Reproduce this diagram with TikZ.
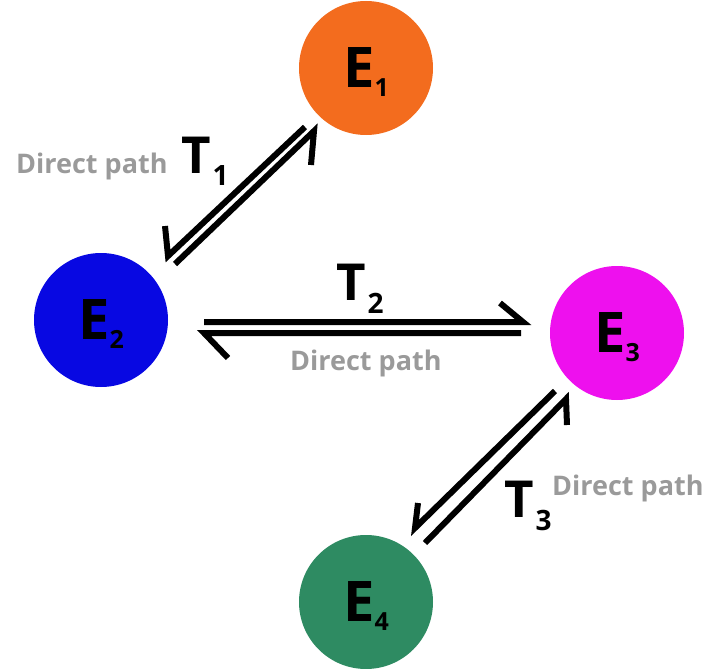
\documentclass[tikz,border=0pt]{standalone}
\usepackage{fontspec}
\setmainfont{Open Sans}
\definecolor{eorange}{HTML}{F36C1E}
\definecolor{eblue}{HTML}{0808E2}
\definecolor{emagenta}{HTML}{EE10EE}
\definecolor{egreen}{HTML}{2E8B62}
\definecolor{pathgray}{HTML}{9A9A9A}
\begin{document}
\begin{tikzpicture}[x=1pt,y=-1pt,
  ball/.style={circle,minimum size=134pt,inner sep=0pt,text=black,font=\bfseries\fontsize{56}{56}\selectfont},
  tlab/.style={inner sep=0pt,anchor=base west,font=\bfseries\fontsize{51}{51}\selectfont},
  dp/.style={inner sep=0pt,anchor=base west,text=pathgray,font=\bfseries\fontsize{27}{27}\selectfont},
  harp/.style={line width=6pt,line join=miter,line cap=butt}]
\useasboundingbox (0,0) rectangle (713,669);
% species
\node[ball,fill=eorange]  (E1) at (366,68)  {E\smash{\raisebox{-9pt}{\fontsize{25}{25}\selectfont 1}}};
\node[ball,fill=eblue]    (E2) at (101,320) {E\smash{\raisebox{-9pt}{\fontsize{25}{25}\selectfont 2}}};
\node[ball,fill=emagenta] (E3) at (617,333) {E\smash{\raisebox{-9pt}{\fontsize{25}{25}\selectfont 3}}};
\node[ball,fill=egreen]   (E4) at (366,602) {E\smash{\raisebox{-9pt}{\fontsize{25}{25}\selectfont 4}}};
% T1 harpoons
\coordinate (a1s) at (305,127); \coordinate (a1t) at (168,256); \coordinate (a1b) at (165,226);
\coordinate (b1s) at (175,264); \coordinate (b1t) at (314,131); \coordinate (b1b) at (311,165);
\draw[harp] (a1s) -- (a1t) -- (a1b);
\draw[harp] (b1s) -- (b1t) -- (b1b);
% T2 harpoons
\coordinate (a2s) at (204,322); \coordinate (a2t) at (523,322); \coordinate (a2b) at (500,303);
\coordinate (b2s) at (521,333); \coordinate (b2t) at (204,333); \coordinate (b2b) at (228,358);
\draw[harp] (a2s) -- (a2t) -- (a2b);
\draw[harp] (b2s) -- (b2t) -- (b2b);
% T3 harpoons
\coordinate (a3s) at (555,391); \coordinate (a3t) at (415,528); \coordinate (a3b) at (418,503);
\coordinate (b3s) at (425,543); \coordinate (b3t) at (566,399); \coordinate (b3b) at (567,425);
\draw[harp] (a3s) -- (a3t) -- (a3b);
\draw[harp] (b3s) -- (b3t) -- (b3b);
% labels
\node[tlab] (T1) at (181,173) {T\kern2pt\raisebox{-13pt}{\fontsize{28}{28}\selectfont 1}};
\node[tlab] (T2) at (336,300) {T\kern2pt\raisebox{-13pt}{\fontsize{28}{28}\selectfont 2}};
\node[tlab] (T3) at (504,517) {T\kern2pt\raisebox{-13pt}{\fontsize{28}{28}\selectfont 3}};
\node[dp] (D1) at (16,173) {Direct path};
\node[dp] (D2) at (290,370) {Direct path};
\node[dp] (D3) at (552,495) {Direct path};
\end{tikzpicture}
\end{document}
